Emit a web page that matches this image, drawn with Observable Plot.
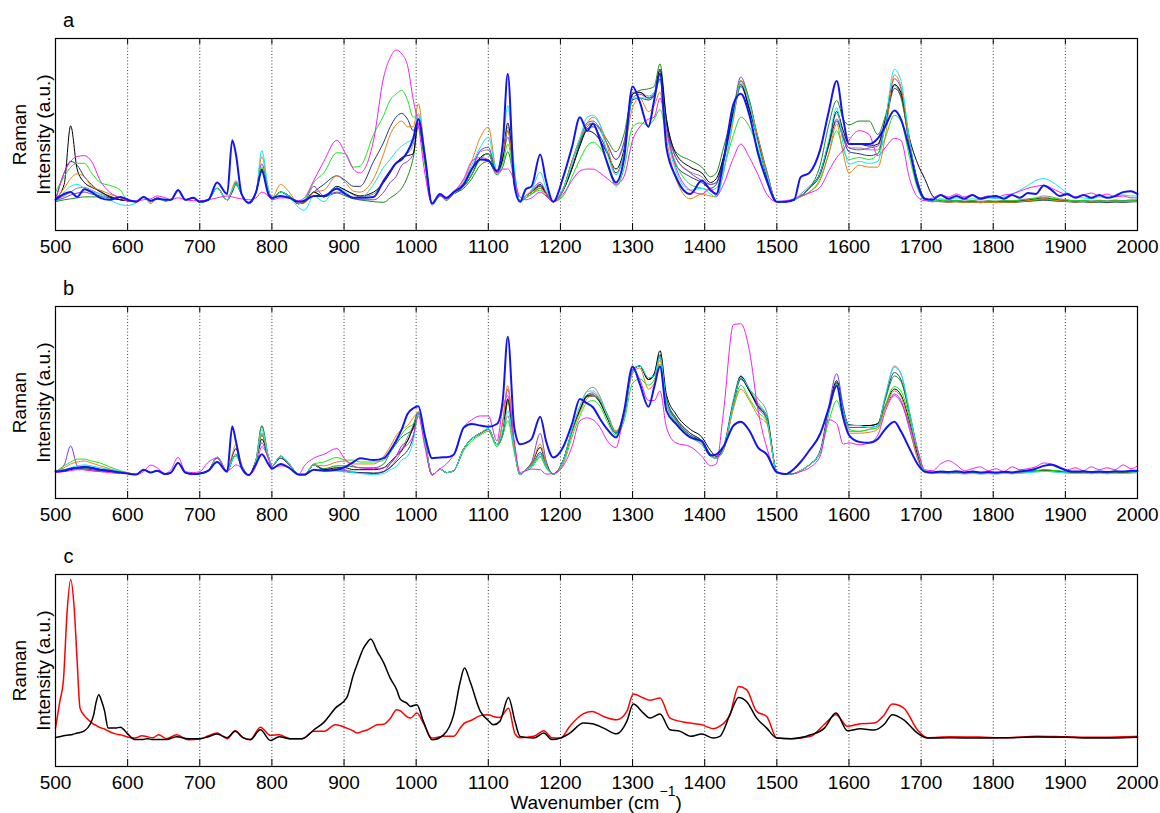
<!DOCTYPE html>
<html>
<head>
<meta charset="utf-8">
<script src="https://cdn.jsdelivr.net/npm/d3@7"></script>
<script src="https://cdn.jsdelivr.net/npm/@observablehq/plot@0.6"></script>
<style>
  html, body { margin: 0; background: #fff; }
  #chart { position: relative; width: 1160px; height: 813px; overflow: hidden;
           font-family: "Liberation Sans", Arial, Helvetica, sans-serif; color: #000; }
  #chart svg { display: block; }
  #xtitle { position: absolute; left: 55px; width: 1082px; top: 793px; text-align: center;
            font-size: 19px; line-height: 19px; white-space: nowrap; }
  #xtitle .sup { font-size: 14px; position: relative; top: -13px; }
</style>
</head>
<body>
<div id="chart"><div id="xtitle">Wavenumber (cm<span class="sup">−1</span>)</div></div>
<script>
// Axis ticks (cm^-1)
const xTicks = [500, 600, 700, 800, 900, 1000, 1100, 1200, 1300, 1400, 1500, 1600, 1700, 1800, 1900, 2000];

// Sampling wavenumbers for panels a and b
const wnAB = [
  500,512,521,530,540,550,562,575,590,600,
  612,622,632,641,652,660,670,680,691,700,
  712,724,738,745,750,758,768,778,786,795,
  800,812,824,837,845,858,872,890,902,913,
  922,941,955,964,972,980,988,996,1003,1012,
  1022,1033,1042,1052,1066,1077,1089,1100,1112,1120,
  1127,1136,1144,1152,1160,1172,1180,1190,1204,1216,
  1227,1237,1245,1255,1265,1277,1288,1300,1310,1322,
  1330,1338,1347,1360,1380,1396,1408,1416,1426,1440,
  1450,1462,1474,1486,1500,1512,1524,1533,1545,1560,
  1572,1583,1592,1600,1614,1628,1640,1650,1663,1672,
  1684,1695,
  1705,1716,1727,1738,1749,1760,1771,1782,1793,1804,
  1815,1826,1837,1848,1859,1870,1881,1892,1903,1914,
  1925,1936,1947,1958,1969,1980,1991,2000
];

// ---- Panel a spectra (relative intensity, 0-100) ----
const aGray = [
  16,18,20,22,22.5,21,19,17.5,16,15.5,
  15,17.5,15,17,15.5,16,21,16,17,14.7,
  16,22,16,20,24,19,14,20,32,21,
  17,20,17.5,14,14.5,20,17.5,22,21,18.5,
  17.5,19,26,31,35,37.5,40,45,58,38,
  14,18,16,19,24,31,41,42,30,38,
  54,28,15,18,20,23.5,19,15,21,36,
  48,55,56,52,45,37,45,72,72,70,
  72,83,56,38,30.5,28,24,25,38,62,
  78,64,48.6,31,15,15,16,19,23,30,
  45,61,50,43,43,42,42,55,75.5,69,
  45,26,
  16.5,15.5,16,15.5,15.8,15.3,15.6,15.2,15.5,15.3,
  15.6,15.4,16,16.5,17,18,17.5,16.5,16,15.5,
  15.8,15.4,15.8,15.5,15.9,15.6,16,16
];
const aBlack = [
  16.5,24,54.5,32,25,22.5,20.5,17.5,16,15.5,
  15,17.5,15,17,15.5,16,21,16,17,14.7,
  16,22,16,21,25,19,14,20,32,21,
  16,20,17.5,14,14.5,20,17.5,23,21,19,
  18,20,25,30,35,38,39,40,58,38,
  14,18,16,19,23,29,38,40,30,38,
  56,30,15,18,20,24,19,15,21,32,
  44,52,51,47,40,32,42,71,72,69,
  71,84,58,40,33,30,25,27,38,62,
  76,63,47,28,15,15,16,18,22,30,
  46,62,52,45,45,44,45,57,76,72,
  48,35,
  27,18,15.5,15.2,15.5,15,15.3,15,15.2,15,
  15.3,15.2,15.5,16,16.5,17,16.5,16,15.5,15.2,
  15.4,15,15.3,15,15.4,15.2,15.5,15.5
];
const aMagenta = [
  15.5,30,36,38.5,39,36,26,20,17,15.5,
  15.5,16,16.5,18,17,16,17,16,15.5,15.5,
  16,17,18,17.5,17,16.5,16,17,20,18,
  16,17,17,15.5,17,26,36,47,40,32,
  30,47,80,90,94,92,86,68,55,30,
  14,18,16.5,20,27,36,38,37,30,32,
  32,26,17.5,16,17,20,18,15,19,26,
  31,32,32,30,27,24,28,47,54,58,
  59,69,52,33,21,19,22,18,24,38,
  45,38,29,19,15,15.5,16.5,18,19.5,22.5,
  31,38,42,47,52,50,39,43,48,47,
  27,17.5,
  15.5,17,18.5,17.5,19,17.5,18.5,17,18,17,
  18.5,19,20.5,22,23,23.5,22,20,18.5,17.5,
  18.5,19.5,18,19,17.5,18,17,17
];
const aGreen = [
  20,28,33,35,35,30,25,23.5,21,15.5,
  15,17.5,15,17,15.5,16,21,16,17,14.7,
  16,22,16,21,24,19,14,20,33,21,
  17,20,18,14,16,25,30,40.5,40,33,
  33.5,50,60,68,71,73,68,59,60,36,
  14,18,16,19,23,29,37,40,30,35,
  45,27,15,17,19,21,18,15,18,28,
  37,44,46,43,36,23,32,54,56,55,
  58,63,50,35,24,22,21,22,32,50,
  59,54,42,26,15,15,16,17.5,20,26,
  40,52,42,37,38,37,40,48,60,57,
  38,22,
  16,15.5,15.8,15.3,15.6,15.2,15.5,15,15.3,15.2,
  15.5,15.4,15.8,16.2,16.8,17.2,16.8,16.2,15.8,15.4,
  15.6,15.2,15.5,15.2,15.5,15.3,15.6,15.5
];
const aNavy = [
  16,30,36,34,28,24,20,18,16,15.5,
  15,17.5,15,17,15.5,16,21,16,17,14.7,
  16,22,16,20,24,19,14,20,31,21,
  17,20,18,14,15,20,24,28.5,26,23,
  23,36,46,54,59,61,58,52,58,37,
  14,18,16,19,23,29,38,40,30,37,
  52,29,15,18,20,23,19,15,21,33,
  45,53,54,49,41,30,40,68,69,68,
  70,79,55,34,28,25,22,24,36,60,
  75,63,46,28,15,15,16,18,22,29,
  44,57,48,41,40,39,40,54,74,70,
  45,26,
  16.5,15.2,15,14.8,15,14.6,14.8,14.5,14.7,14.5,
  14.8,14.6,14.9,15.2,15.5,15.8,15.5,15.2,15,14.7,
  14.9,14.5,14.8,14.5,14.8,14.6,14.9,15
];
const aOrange = [
  16,22,27,29.5,28,23,21,19,17,15.5,
  15,17.5,14,17,15.5,16,21,16,17,14.7,
  16,22,16,22,26,19,14,20,38.5,22,
  17,24,20,14,14.5,20,21,28.5,25,20.5,
  20,27,40,50,55,57,54,54,66,40,
  14,18,15.5,20,26,36,48.6,53.8,31,40,
  52,28,15,18,20,22,19,15,21,36,
  48,56,59,55,44,29,40,64,69,62,
  65,72,48,27,16.5,19,18,17.5,30,58,
  78,66,48,30,15,15,16,17.5,20,27,
  40,55.5,40,30,34,33,33,48,81,75,
  45,24,
  16,15,15.2,14.8,15,14.6,14.8,14.5,14.7,14.5,
  14.8,14.7,15,15.5,16,16.5,16,15.5,15.2,14.9,
  15.2,14.8,15.3,15,15.3,15,15.2,15
];
const aCyan = [
  15,20,23,24,22,20.5,18.5,16,13.5,13,
  14.5,17.5,15,17,15.5,16,21,16,17,14.7,
  16,22,16,21,25,19,14,20,41.6,22,
  16,20,17.5,12,10.5,18,15,22.5,20,17,
  17,24,33,37,41,44,46,48,61,40,
  13,18,16,19,25,34,43.4,48.6,31,45,
  65,33,15,18,21,30.4,22,15,22,35,
  48,59,60,55,40,29,40,69,69,69,
  72,78,52,31,21,22,19,17.5,30,60,
  77,66,45,29,15,15,16,18,22,30,
  47,64,45,34.5,36,35,36,55,84,78,
  47,24,
  16,15.5,16.5,16,17,16,16.5,16,17,16.5,
  17.5,19,21,23.5,26,27,25.5,22.5,19.5,17.5,
  17,16.5,17.5,17,18,18.5,18,18
];
const aPurple = [
  15.5,17,18.5,19.5,20,19,18,17,16,15.5,
  15,17.5,15,17,15.5,16,21,16,17,14.7,
  16,22,16,21,25,19,14,20,34.7,21,
  16.5,20,18,14,15,23,18,20,19,17,
  16,16,20,25,28,34,36,40,56,37,
  14,18,16,19,24,32,41.7,43.4,31,38,
  48.6,29,15,18,21,25,20,15,22,36,
  47,56,57,53,45,37,46,69,71,69,
  70,81.6,56,38,30,26,24,25,38,63,
  80,67,48,31,15,15,16,18,22,30,
  45,58,49,43,42,43,44,57,79,74,
  46,25,
  16,15,15.3,14.9,15.2,14.7,15,14.6,14.9,14.7,
  15,14.8,15.2,15.6,16,16.3,16,15.6,15.3,15,
  15.3,14.9,15.4,15,15.3,15,15.4,15.5
];
const aDarkGreen = [
  15,16,16.5,17,17.5,17.5,17.5,17,16,15.5,
  15,17.5,15,17,15.5,16,21,16,17,14.7,
  16,22,16,21,24,19,14,20,32,21,
  17,20,18,14,15,20,17.5,19.5,18,16.5,
  16,15,14.7,17,19,22,28,38,54,35,
  14,18,16,19,22,27,34,36,29,33,
  41,26,15,17,19,22,19,15,22,36,
  46,54,55.6,53,47,41,50,71,73,73.8,
  75,86.8,58,41,36.5,33,28,30,43,63,
  78,68,47,30,15,15,16,18,22,34,
  55,67.7,58,55,57,57,50,59,76,71,
  44,26,
  17,15.5,15.2,15,15.2,14.9,15.1,14.8,15,14.8,
  15,14.9,15.2,15.4,15.7,16,15.8,15.5,15.2,15,
  15.1,14.8,15,14.8,15.1,14.9,15.2,15.5
];
const aBlue = [
  16,19,20,17.5,21.5,20,17,16,17.5,16,
  15,17.5,15.5,16.5,16,16,21,16,17,15,
  16,25,19,47,40,19,14.5,20,31,19,
  17,18,17,15,15.5,18,18,21.7,19,17,
  17,17.5,26,31,35,37,41,48,58,39,
  14,19,17,20,24,32,37,36.5,31,45,
  81.6,24,15,21.5,23,39.6,26,15,28,43.4,
  59,52,55.6,47,35,25,37,75,67,54,
  68,81.6,43,28,19,26,21,19,36,66,
  71.2,60,40,26,15,15,16,27.8,30,42,
  62,77.8,58,45,45,45,48,54,62.5,58,
  42,24,
  16.5,16,18.5,16.5,18,16.5,18.5,16.5,17.5,18,
  16.5,18.5,17,19.5,19,23.5,21,18,19,17,
  18.5,17,18.5,17,18,20,20.5,19
];

// ---- Panel b spectra ----
const bGray = [
  14,14.5,15,16,16,15.5,15,14.5,13.5,13,
  12.5,15,13.5,14.5,12.7,13.5,18.5,13.5,12.7,13,
  14.5,21.5,14,20,23,17,12.2,20,37.8,22,
  17,22,18,12.5,12.2,17.9,15,15.5,15,14,
  13.5,13.5,14,16.5,20,25,32,38,45,30,
  12.3,15.3,13.5,14.5,26,31,34,36,28,33,
  43,25,12.5,15,17,22,17,12.7,20,36,
  48,56,57.9,53,43,34,42,66,69,62,
  64,74,50,42,34,30,23,22,27,52,
  64,57,52,45,14,12.7,13,14.5,17.5,24,
  45,60.5,45,35,35,36,37,52,69,65,
  45,25,
  14,13.5,13.8,13.4,13.7,13.3,13.6,13.3,13.5,13.3,
  13.6,13.4,13.7,14,14.4,14.8,14.6,14.2,13.9,13.6,
  13.8,13.5,13.8,13.5,13.8,13.6,13.9,14
];
const bPurple = [
  14,17.5,27.4,17,15,14.5,14,14,13.5,13,
  12.5,15,13.5,14.5,12.7,13.5,18.5,13.5,12.7,13,
  14.5,21,14,20,23,17,12.2,20,29,21,
  17,21,17.5,12.5,12.2,17.5,14.5,15,14.5,13.5,
  13.5,13,14,18,22,27.5,30,38,45,30,
  12.3,15.3,13.5,14.5,26,31,33.6,36,28,40,
  57,28,12.5,15,19,33.9,20,12.7,20,35,
  46,54,55,51,42,34,43,67,69,62,
  65,74,50,41,33,29,22,21,26,50,
  62,56,47,41,14,12.7,13,14.5,17.5,25,
  48,65,48,37,37,37,38,47,54.4,51,
  36,21,
  14,13.5,13.7,13.3,13.6,13.2,13.5,13.2,13.4,13.2,
  13.5,13.3,13.6,13.9,14.3,14.6,14.4,14,13.7,13.4,
  13.6,13.3,13.6,13.3,13.6,13.4,13.7,14
];
const bGreen = [
  14,17,19,20.5,20.5,19.5,18.5,16.5,14.5,13.5,
  12.5,15,13.5,14.5,12.7,13.5,18.5,13.5,12.7,13,
  14.5,21.5,14,20,22,17,12.2,20,34,22,
  17,22,18,12.5,12.2,18,19,21.4,20,20,
  19,19,20,24,29,33.5,37,38.7,44,30,
  12.3,15.3,13.5,14.5,25,30,33,35,27,33,
  40.5,24,12.5,14.5,16,21.4,16,12.7,18,32,
  43,50,51,48,40,33,40,60,62.3,59,
  62,70,50,39,32,29,22,21,25,48,
  59,52,45,40,14,12.7,13,14.5,17.5,24,
  40,51,42,36,35,36,37,48,58.3,56,
  42,25,
  14.5,13.7,13.9,13.5,13.8,13.4,13.7,13.4,13.6,13.4,
  13.7,13.5,13.8,14.1,14.5,14.9,14.7,14.3,14,13.7,
  13.9,13.6,13.9,13.6,13.9,13.7,14,14
];
const bOrange = [
  14,16,18,19,19.5,18.5,17,15.5,14,13.5,
  12.5,15,13.5,14.5,12.7,13.5,18.5,13.5,12.7,13,
  14.5,21.5,14,23,28.3,18,12.2,20,34,22,
  17,22,18,12.5,12.2,17.5,17,19,19.5,18,
  18,18,22,27,32.6,36,38,42,45,31,
  12.3,15.3,13.5,14.5,26,31,34,36,28,40,
  58.8,28,12.5,15,18,28.3,18,12.7,19,34,
  45,52,53.6,51,43,35,44,65,68,57,
  60,72,49,40,32,28,22,21,25,47,
  57,51,43,39,14,12.7,13,14.5,17.5,24,
  44,58,44,34,34,34.5,36,47,56,53,
  38,21,
  13.5,13,13.2,12.9,13.1,12.8,13,12.8,13,12.8,
  13.1,12.9,13.2,13.5,13.9,14.2,14,13.6,13.3,13,
  13.2,12.9,13.2,12.9,13.2,13,13.3,13.5
];
const bMagenta = [
  13.5,14,14.5,15,15,14.5,14,13.5,13,13,
  12.5,14,17.4,16,13,15,21.4,14,13.5,14,
  19,21,14.5,16,17.5,16,12.2,17,27,21,
  16,17,16,12.5,17,21,23,26,20,17,
  16,15.5,16,18,22,26,28,33,43,27,
  12.3,15.5,18,23,37,41,43,43,30,47,
  53.6,30,13.6,14.5,15.3,15,12.7,13,17,27,
  40.5,42,41,37,30,26.6,45,68,62,51,
  51,56,37,29,27,22,17,18,45,90.6,
  91,77,46,26.6,14,13,13,14,16,22,
  41,39,28.3,29,28,29,33,45,53.6,50,
  38,25,
  15,14.5,18,19.7,17.5,14.5,15.5,16.5,14.5,15.5,
  14,16.5,15,15.5,16.5,18.5,18,16.5,15,16,
  14.5,16.5,15,16,15,17.5,15.5,17
];
const bCyan = [
  14,15,16,17,17.5,17,16,15,14,13,
  12.5,15,13.5,14.5,12.7,13.5,18.5,13.5,12.7,13,
  14.5,21.5,14,20,23,17,12.2,20,35.8,22,
  17,22,18,12.5,12.2,17.5,14.5,14.5,14,13.5,
  13,12.5,13,15,16.5,20,22,30,44,29,
  12.3,15.3,13.5,14.5,26,31,34,36.5,28,35,
  45.7,26,12.5,15,17,23,17,12.7,20,36,
  48,55.8,56,52,43,34,43,67,69,63,
  64,74,50,40,32,28,22,21,26,50,
  63,57,50,42,14,12.7,13,14.5,17.5,24,
  45,59.7,46,38,38,37,38,53,68.3,65,
  45,25,
  14,13,13.2,12.9,13.2,12.9,13.1,12.8,13,12.8,
  13.1,12.9,13.2,13.5,13.8,14.1,13.9,13.6,13.3,13,
  13.2,12.9,13.2,12.9,13.2,13,13.3,13.5
];
const bBlack = [
  14,15,15.5,16,16.5,16,15,14.5,13.5,13,
  12.5,15,13.5,14.5,12.7,13.5,18.5,13.5,12.7,13,
  14.5,21.5,14,22,26,17,12.2,20,30.9,22,
  17,22,18,12.5,12.2,17.5,15,16,16,15,
  15,15,16,19,22,25,30,37,44,29,
  12.3,15.3,13.5,14.5,26,31,34,36,28,34,
  51.8,27,12.5,15,18,26.6,18,12.7,20,35,
  46,53.6,54,50,42,34,44,67,69,62,
  65,77,54,44,36,32,25,22,26,50,
  63.5,56,48,42,14,12.7,13,14.5,17.5,24,
  46,61.4,46,38.4,38,38,39,48,57,54,
  40,23,
  14,13.5,13.7,13.3,13.6,13.3,13.5,13.2,13.4,13.2,
  13.5,13.3,13.6,13.9,14.3,14.7,14.5,14.1,13.8,13.5,
  13.7,13.4,13.7,13.4,13.7,13.5,13.8,14
];
const bDarkGreen = [
  14,15,15.5,16,16,15.5,15,14.5,13.5,13,
  12.5,15,13.5,14.5,12.7,13.5,18.5,13.5,12.7,13,
  14.5,21.5,14,20,23,17,12.2,20,37.8,22,
  17,22,18,12.5,12.2,17.5,15.5,17,17,16.5,
  16,16,18,24,28.3,32,34,36,44,30,
  12.3,15.3,13.5,14.5,26,31,34,36,28,33,
  50,27,12.5,15,17,23,17,12.7,20,35,
  46,53,53.6,51,44,35,44,67,69,62,
  64,74,51,41,33,30,23,21,26,50,
  63.5,57,49,43,14,12.7,13,14.5,17.5,24,
  45,60.5,46,38,38,38,39,51,63.8,61,
  44,26,
  14.5,13.6,13.8,13.4,13.7,13.3,13.6,13.3,13.5,13.3,
  13.6,13.4,13.7,14,14.4,14.8,14.6,14.2,13.9,13.6,
  13.8,13.5,13.8,13.5,13.8,13.6,13.9,14
];
const bNavy = [
  14,14.5,15,15.5,15.5,15,14.5,14,13.5,13,
  12.5,15,13.5,14.5,12.7,13.5,18.5,13.5,12.7,13,
  14.5,21.5,14,20,23,17,12.2,20,33,22,
  17,21,17.5,12.5,12.2,17.5,14.5,14.5,14,13.5,
  13.5,13,14,16,19,22,25,32,44,30,
  12.3,15.3,13.5,14.5,26,31,34,36,28,34,
  51.8,27,12.5,15,17,24,17,12.7,20,35,
  46,53,53.3,50,42,34,43,67,69,62,
  64,75,52,42,34,30,23,21,26,50,
  62.5,56,48,42,14,12.7,13,14.5,17.5,24,
  45,60,46,38,38,38,39,52,65.6,62,
  44,25,
  14,13.5,13.7,13.3,13.6,13.2,13.5,13.2,13.4,13.2,
  13.5,13.3,13.6,13.9,14.3,14.7,14.5,14.1,13.8,13.5,
  13.7,13.4,13.7,13.4,13.7,13.5,13.8,14
];
const bBlue = [
  14,14.5,15.5,16,16.5,16,15,14.5,13.5,13,
  12.5,15,13.5,14.5,12.7,13.5,18.5,13.5,12.7,13,
  14.5,19,14,37.5,30,16,12.2,18,23,18,
  15.5,18,16,12.5,12.5,15,14.5,15,16.5,19,
  21,20,21,25,30,36,44,47,48,33,
  21,21.4,21.5,22.8,37,38.8,38,37.4,38.8,51,
  84.3,37,28.3,29,31,42.6,30,21.4,27,38.8,
  51.8,49.5,47.5,41.4,36,31.8,45,68.7,59.7,47.8,
  58,68.7,45.7,39,31.8,30,22.5,23,27,38,
  40,35.3,26.5,23,13.6,12.7,15.5,19,25,33.6,
  47,58.8,42,33,29.5,29,31,36,40,35,
  26,18,
  14,13.5,14,13.8,14.2,13.6,14,13.5,13.8,13.5,
  13.9,13.6,14.2,14.6,15.5,17,17.6,16,14.5,14,
  14.2,13.8,14.1,13.8,14.2,14,14.5,14.5
];

// ---- Panel c spectra ----
const wnC = [
  500,506,511,516,521,526,530,534,540,548,
  553,556,560,564,568,573,583,590,599,610,
  620,627,635,643,654,668,684,700,712,724,
  738,749,760,770,784,798,810,825,842,858,
  872,888,904,913,918,927,932,937,946,955,
  964,973,978,987,992,1001,1010,1022,1038,1052,
  1061,1067,1075,1089,1100,1107,1116,1128,1137,1144,
  1163,1177,1188,1200,1213,1232,1244,1260,1278,1292,
  1301,1315,1324,1338,1352,1366,1380,1396,1412,1421,
  1435,1447,1458,1472,1486,1500,1520,1547,1566,1582,
  1598,1616,1635,1649,1660,1676,1695,1709,1740,1780,
  1820,1860,1900,1940,1980,2000
];
const cRed = [
  20,33.9,45,80,97.4,82,55,30.4,26.5,23.5,
  22,21.5,20.5,20,19.5,18.5,17,16.5,15.5,14.8,
  16,15.5,15,16.5,14.5,16.5,13.9,14.3,16,17.5,
  14.5,18.6,15,13.9,20.5,16.2,16.5,14.5,14.5,18.3,
  18.3,21.7,20,18.5,17.4,18.5,19,20,21.7,22,
  25,29.6,29,26,25.2,27.8,22.6,14.8,15.7,15.7,
  20,22.6,23.8,26.5,27,26,25.5,30.4,17,15,
  15.7,18.6,15,14.8,21,27.5,28.7,26,24.3,28.7,
  37.7,35.7,34.5,35.7,25.2,23.5,22.6,21.7,19.7,21,
  27,41.7,40,28.7,26,14.8,14.5,15.7,22,27,
  20.9,22.3,22.6,27,32.5,30.4,19,15,15.5,15.3,
  15,15.8,15.5,15.2,15.5,15.7
];
const cBlack = [
  15.1,15.5,16,16.3,16.5,17,17.4,17.7,18.5,22,
  27,33,37.4,34,29,20,20,20.5,17.4,14,
  14,14.5,14,14,14,15.5,14.5,14.5,15.5,16.9,
  15,18.3,15,14,19.1,13.5,15.5,14.5,14.5,19,
  23,30.4,36,47.8,53,61.7,64.5,66.4,60,54,
  46,40,35,33,31.3,32.2,23.5,13.9,16.5,27,
  44,51.3,44,28.7,24,21.7,23.5,36,23.5,15.7,
  14.8,17.4,14,14.8,17.4,22.6,22.3,20,17,23.5,
  32.5,27.8,25.2,27.3,19.1,18.3,15.7,16.9,14.8,15.7,
  27,36,33.9,25.2,20,14.8,14.5,16.5,20,27.8,
  18.6,19.6,19,22,27,24.3,17.4,14.8,15,14.8,
  15,15.3,15.2,14.8,15,15.2
];

// Series styling: [values, colour, stroke width]; drawn in this order
const seriesA = [
  [aGray, "#8a8a8a", 1], [aPurple, "#8236e0", 1], [aNavy, "#26367a", 1],
  [aDarkGreen, "#1a8a1a", 1], [aBlack, "#000000", 1], [aGreen, "#19e619", 1],
  [aOrange, "#e6820e", 1], [aCyan, "#12e6f2", 1], [aMagenta, "#f020f0", 1],
  [aBlue, "#1414f0", 2]
];
const seriesB = [
  [bGray, "#8a8a8a", 1], [bPurple, "#8236e0", 1], [bNavy, "#26367a", 1],
  [bDarkGreen, "#1a8a1a", 1], [bBlack, "#000000", 1], [bGreen, "#19e619", 1],
  [bOrange, "#e6820e", 1], [bCyan, "#12e6f2", 1], [bMagenta, "#f020f0", 1],
  [bBlue, "#1414f0", 2]
];
const seriesC = [
  [cRed, "#ff0000", 1.5], [cBlack, "#000000", 1.5]
];

const FONT = '"Liberation Sans", Arial, Helvetica, sans-serif';

function spectrumPanel(letter, wn, series, height, marginBottom) {
  const lines = series.map(([values, color, width]) =>
    Plot.line(wn.map((x, i) => ({x, y: values[i]})),
      {x: "x", y: "y", stroke: color, strokeWidth: width, curve: "monotone-x"}));
  return Plot.plot({
    width: 1160, height,
    marginTop: 38, marginLeft: 55, marginRight: 23, marginBottom,
    style: {fontFamily: FONT, fontSize: "19px", color: "#000", background: "#fff", overflow: "visible"},
    x: {domain: [500, 2000], ticks: xTicks, tickSize: 0, tickPadding: 9, tickFormat: d => `${d}`, label: null},
    y: {domain: [0, 100], axis: null},
    marks: [
      // dotted grid at each labelled wavenumber
      Plot.ruleX(xTicks.slice(1, -1), {stroke: "#000", strokeWidth: 0.8, strokeDasharray: "1,2.2"}),
      // short inward ticks on the bottom and top edges
      Plot.tickX(xTicks, {stroke: "#000", strokeWidth: 1, insetTop: 185}),
      Plot.tickX(xTicks, {stroke: "#000", strokeWidth: 1, insetBottom: 186}),
      ...lines,
      Plot.frame({stroke: "#000", strokeWidth: 1.2}),
      Plot.text([letter], {frameAnchor: "top-left", dx: 13, dy: -17.6, textAnchor: "middle", lineAnchor: "middle", fontSize: 20}),
      // two-line rotated y label
      Plot.text(["Raman"], {frameAnchor: "left", rotate: -90, dx: -36, textAnchor: "middle", lineAnchor: "middle", fontSize: 19}),
      Plot.text(["Intensity (a.u.)"], {frameAnchor: "left", rotate: -90, dx: -12, textAnchor: "middle", lineAnchor: "middle", fontSize: 19})
    ]
  });
}

const chart = document.getElementById("chart");
const title = document.getElementById("xtitle");
chart.insertBefore(spectrumPanel("a", wnAB, seriesA, 268, 38), title);
chart.insertBefore(spectrumPanel("b", wnAB, seriesB, 268, 38), title);
chart.insertBefore(spectrumPanel("c", wnC, seriesC, 277, 47), title);
</script>
</body>
</html>
